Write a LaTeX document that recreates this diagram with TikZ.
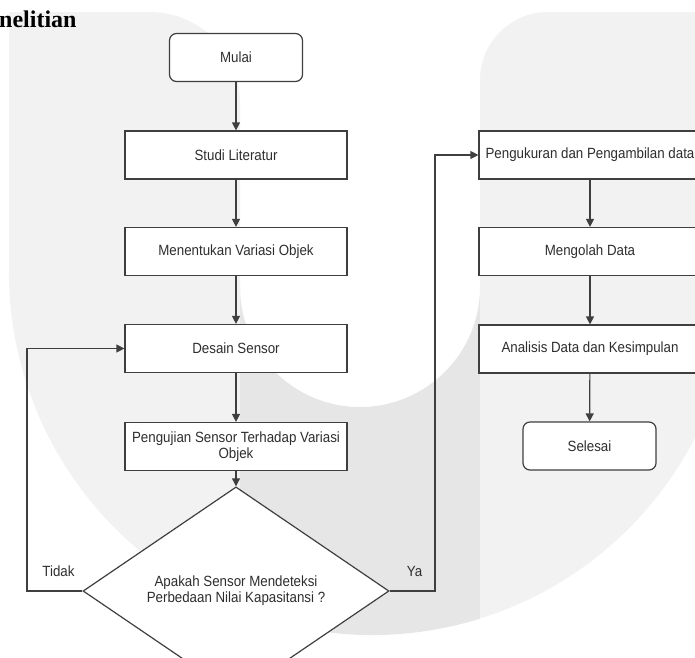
\documentclass[tikz,border=0pt]{standalone}
\usepackage{fontspec}
\setmainfont{Liberation Sans}
\newfontfamily\flowfont[FakeStretch=0.9]{Liberation Sans}
\newfontfamily\headfont{Liberation Serif}
\usepackage{tikz}
\usetikzlibrary{arrows.meta, shapes.geometric}
\definecolor{linegray}{HTML}{3F3F3F}
\definecolor{textgray}{HTML}{2E2E2E}
\definecolor{wmlight}{HTML}{F2F2F2}
\definecolor{wmdark}{HTML}{E6E6E6}
\tikzset{
  process/.style  = {rectangle, draw=linegray, fill=white, line width=1.2pt,
                     minimum width=222pt, minimum height=48pt, inner sep=2pt,
                     font=\flowfont\fontsize{14.8}{16.5}\selectfont, text=textgray,
                     align=center},
  terminal/.style = {process, rounded corners=7pt, minimum width=133pt},
  decision/.style = {diamond, draw=linegray, fill=white, line width=1.2pt,
                     minimum width=306pt, minimum height=144pt, inner sep=0pt,
                     font=\flowfont\fontsize{14.8}{16}\selectfont, text=textgray,
                     align=center},
  flow/.style     = {-{Triangle[length=8pt,width=8pt]}, draw=linegray, line width=1.2pt},
  lbl/.style      = {font=\flowfont\fontsize{14.8}{16}\selectfont, text=textgray,
                     inner sep=0pt},
}

\begin{document}
\begin{tikzpicture}[x=1pt, y=-1pt]
  \useasboundingbox (0,0) rectangle (695,657);
  \clip (0,0) rectangle (695,657);
  % ---- watermark
  \fill[wmlight] (9,272) -- (9,12) -- (150,12) arc[start angle=-90, end angle=0, radius=90]
    -- (240,610) arc[start angle=111.32, end angle=180, radius=363] -- cycle;
  \fill[wmdark] (240,287) arc[start angle=180, end angle=0, radius=120]
    -- (480,618.6) arc[start angle=72.69, end angle=111.32, radius=363] -- cycle;
  \fill[wmlight] (480,618.6) -- (480,80) arc[start angle=180, end angle=270, radius=68]
    -- (700,12) -- (700,427.5) arc[start angle=25.37, end angle=72.69, radius=363] -- cycle;
  % ---- heading (cut at the page edge)
  \node[anchor=base west, inner sep=0pt, font=\headfont\bfseries\fontsize{24}{28}\selectfont]
    (head) at (-1,27) {nelitian};
  % ---- left column
  \node[terminal] (mulai) at (236,57.5) {Mulai};
  \node[process] (studi) at (236,155) {Studi Literatur};
  \node[process] (variasi) at (236,251.5) {Menentukan Variasi Objek};
  \node[process] (desain) at (236,348.5) {Desain Sensor};
  \node[process] (uji) at (236,446.5) {Pengujian Sensor Terhadap Variasi\\Objek};
  \node[decision] (cek) at (236,591) {Apakah Sensor Mendeteksi\\Perbedaan Nilai Kapasitansi ?};
  % ---- right column
  \node[process] (ukur) at (590,155) {Pengukuran dan Pengambilan data};
  \node[process] (olah) at (590,251.5) {Mengolah Data};
  \node[process] (analisis) at (590,349) {Analisis Data dan Kesimpulan};
  \node[terminal] (selesai) at (589.5,446) {Selesai};
  % ---- connectors
  \draw[flow] (mulai) -- (studi);
  \draw[flow] (studi) -- (variasi);
  \draw[flow] (variasi) -- (desain);
  \draw[flow] (desain) -- (uji);
  \draw[flow] (uji) -- (cek.north);
  \draw[flow] (ukur) -- (olah);
  \draw[flow] (olah) -- (analisis);
  \draw[flow] (analisis) -- (selesai);
  \coordinate (tidakturn) at (27,591);
  \coordinate (yaturn) at (435,591);
  \draw[flow] (cek.west) -- (tidakturn) |- (desain.west);
  \draw[flow] (cek.east) -- (yaturn) |- (ukur.west);
  \node[lbl] (tidak) at (58.5,571) {Tidak};
  \node[lbl] (ya) at (414.5,571) {Ya};
\end{tikzpicture}
\end{document}
